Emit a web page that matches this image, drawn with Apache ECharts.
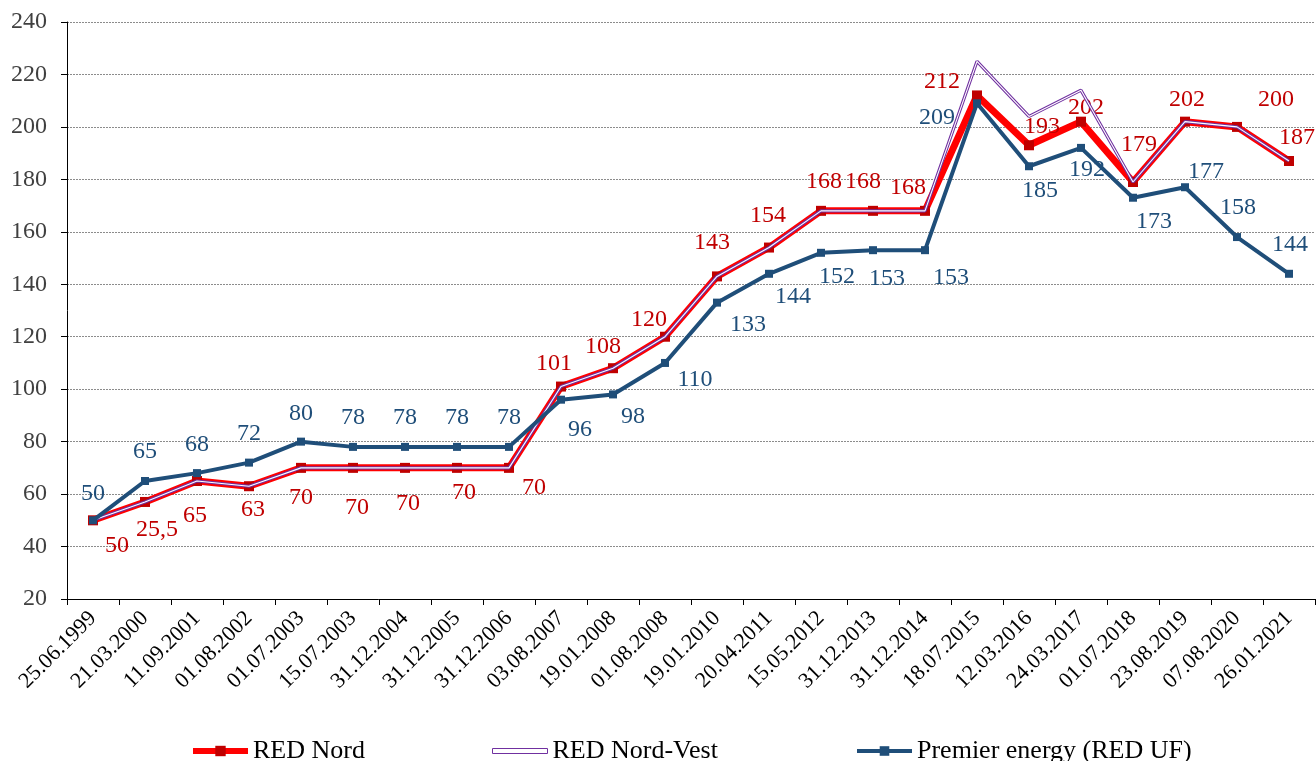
<!DOCTYPE html>
<html>
<head>
<meta charset="utf-8">
<script src="https://cdn.jsdelivr.net/npm/echarts@6/dist/echarts.min.js"></script>
<style>
html, body { margin: 0; padding: 0; background: #fff; }
#chart { width: 1316px; height: 761px; }
</style>
</head>
<body>
<div id="chart"></div>
<script>
// data
const dates = ['25.06.1999', '21.03.2000', '11.09.2001', '01.08.2002', '01.07.2003', '15.07.2003',
  '31.12.2004', '31.12.2005', '31.12.2006', '03.08.2007', '19.01.2008', '01.08.2008',
  '19.01.2010', '20.04.2011', '15.05.2012', '31.12.2013', '31.12.2014', '18.07.2015',
  '12.03.2016', '24.03.2017', '01.07.2018', '23.08.2019', '07.08.2020', '26.01.2021']
const redNord = [50, 57, 65, 63, 70, 70, 70, 70, 70, 101, 108, 120, 143, 154, 168, 168, 168, 212, 193, 202, 179, 202, 200, 187]
const redNordVest = [50, 57, 65, 63, 70, 70, 70, 70, 70, 101, 108, 120, 143, 154, 168, 168, 168, 225, 204, 214, 179, 202, 200, 187]
const premier = [50, 65, 68, 72, 80, 78, 78, 78, 78, 96, 98, 110, 133, 144, 152, 153, 153, 209, 185, 192, 173, 177, 158, 144]
// the chart prints "25,5" at the second red point
const redNordText = { 1: '25,5' }
// Nord-Vest only has labels where it leaves the red line
const nordVestShown = [17, 18, 19]

// label placement (dx, dy from the point), layout only
const redOff = [[24, 25], [12, 28], [-2, 35], [4, 23], [0, 30], [4, 40], [3, 36], [7, 25], [25, 20],
  [-7, -23], [-10, -21], [-16, -17], [-5, -34], [-1, -32], [3, -29], [-10, -29], [-17, -23],
  [-35, -14], [13, -19], [5, -14], [6, -37], [2, -22], [39, -27], [8, -23]]
const blueOff = [[0, -27], [0, -29], [0, -28], [0, -29], [0, -28], [0, -29], [0, -29], [0, -29], [0, -29],
  [19, 30], [20, 22], [30, 17], [31, 22], [24, 23], [16, 24], [14, 29], [26, 28],
  [-40, 14], [11, 24], [6, 22], [21, 24], [21, -16], [1, -29], [1, -29]]
const violetOff = { 17: [23, -18], 18: [8, -21], 19: [7, -17] }

const font = 'Liberation Serif'

function withLabels (values, offsets, color, show) {
  return values.map((v, i) => ({
    value: v,
    label: {
      show: show ? show(i) : true,
      offset: offsets[i] || [0, 0],
      color: color
    }
  }))
}

let legendText = { fontFamily: font, fontSize: 26, color: '#000' }

let myChart = echarts.init(document.getElementById('chart'))
myChart.setOption({
  animation: false,
  textStyle: { fontFamily: font },
  grid: { left: 67, right: 1, top: 22, bottom: 162 },
  legend: [
    {
      left: 185, top: 733, itemWidth: 55, itemHeight: 13,
      textStyle: legendText,
      lineStyle: { width: 6 },
      data: ['RED Nord']
    },
    {
      left: 487, top: 733, itemWidth: 55, itemHeight: 5,
      textStyle: legendText,
      data: [{ name: 'RED Nord-Vest', icon: 'rect', itemStyle: { color: '#fff', borderColor: '#7030A0', borderWidth: 1 } }]
    },
    {
      left: 850, top: 733, itemWidth: 55, itemHeight: 12,
      textStyle: legendText,
      lineStyle: { width: 4 },
      data: ['Premier energy (RED UF)']
    }
  ],
  xAxis: {
    type: 'category',
    data: dates,
    boundaryGap: true,
    axisLine: { lineStyle: { color: '#000', width: 1 } },
    axisTick: { show: true, length: 6, interval: 0, lineStyle: { color: '#000' } },
    axisLabel: { interval: 0, rotate: 45, fontFamily: font, fontSize: 22, color: '#000', margin: 16 }
  },
  yAxis: {
    type: 'value',
    min: 20,
    max: 240,
    interval: 20,
    axisLine: { show: true, lineStyle: { color: '#000', width: 1 } },
    axisTick: { show: true, length: 6, lineStyle: { color: '#000' } },
    axisLabel: { fontFamily: font, fontSize: 24, color: '#404040', margin: 20 },
    splitLine: { show: true, lineStyle: { color: '#8c8c8c', type: [2, 1], width: 1 } }
  },
  series: [
    {
      name: 'RED Nord',
      type: 'line',
      data: withLabels(redNord, redOff, '#C00000'),
      symbol: 'rect',
      symbolSize: 10,
      itemStyle: { color: '#C00000' },
      lineStyle: { color: '#FF0000', width: 7 },
      label: {
        position: 'inside',
        fontFamily: font,
        fontSize: 24,
        formatter: p => redNordText[p.dataIndex] || p.value
      },
      z: 2
    },
    {
      name: 'RED Nord-Vest',
      type: 'line',
      data: withLabels(redNordVest, violetOff, '#7030A0', i => nordVestShown.includes(i)),
      symbol: 'none',
      itemStyle: { color: '#7030A0' },
      lineStyle: { color: '#7030A0', width: 3.2 },
      label: { position: 'inside', fontFamily: font, fontSize: 24 },
      z: 3
    },
    {
      // white middle of the double line
      name: 'nordVestInner',
      type: 'line',
      data: redNordVest,
      symbol: 'none',
      silent: true,
      lineStyle: { color: '#fff', width: 1.1 },
      z: 4
    },
    {
      name: 'Premier energy (RED UF)',
      type: 'line',
      data: withLabels(premier, blueOff, '#1F4E79'),
      symbol: 'rect',
      symbolSize: 8,
      itemStyle: { color: '#1F4E79' },
      lineStyle: { color: '#1F4E79', width: 4 },
      label: { position: 'inside', fontFamily: font, fontSize: 24 },
      z: 5
    }
  ]
})
</script>
</body>
</html>
